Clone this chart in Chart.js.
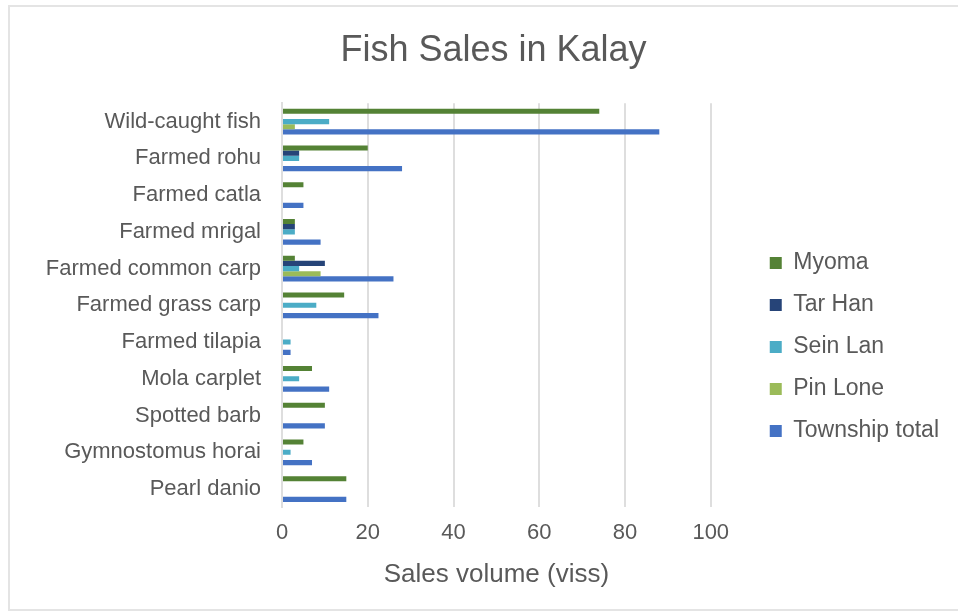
<!DOCTYPE html>
<html>
<head>
<meta charset="utf-8">
<title>Fish Sales in Kalay</title>
<script src="https://cdn.jsdelivr.net/npm/chart.js@4/dist/chart.umd.min.js"></script>
<style>
  html, body { margin: 0; padding: 0; background: #fff; }
  #wrap { position: relative; width: 958px; height: 615px; overflow: hidden; }
  #frame { position: absolute; left: 8px; top: 5px; width: 960px; height: 606px; border: 2px solid #e4e4e4; box-sizing: border-box; }
  #fishChart { position: absolute; left: 0; top: 0; }
</style>
</head>
<body>
<div id="wrap">
  <div id="frame"></div>
  <canvas id="fishChart" width="958" height="615"></canvas>
</div>
<script>
// fish types, top to bottom
const fishTypes = [
  'Wild-caught fish', 'Farmed rohu', 'Farmed catla', 'Farmed mrigal',
  'Farmed common carp', 'Farmed grass carp', 'Farmed tilapia', 'Mola carplet',
  'Spotted barb', 'Gymnostomus horai', 'Pearl danio'
];

// sales volume (viss) per village
const myoma    = [74, 20, 5, 3, 3, 14.5, 0, 7, 10, 5, 15];
const tarHan   = [0, 4, 0, 3, 10, 0, 0, 0, 0, 0, 0];
const seinLan  = [11, 4, 0, 3, 4, 8, 2, 4, 0, 2, 0];
const pinLone  = [3, 0, 0, 0, 9, 0, 0, 0, 0, 0, 0];
const township = [88, 28, 5, 9, 26, 22.5, 2, 11, 10, 7, 15];

const xTicks = [0, 20, 40, 60, 80, 100];

const textColor = '#595959';
const gridColor = '#dedede';
const font = 'Liberation Sans, Arial, sans-serif';

function serie(label, data, color) {
  return {
    label: label,
    data: data,
    backgroundColor: color,
    borderWidth: 0,
    categoryPercentage: 0.7,
    barPercentage: 1.0,
  };
}

new Chart(document.getElementById('fishChart'), {
  type: 'bar',
  data: {
    labels: fishTypes,
    datasets: [
      serie('Myoma', myoma, '#548235'),
      serie('Tar Han', tarHan, '#264478'),
      serie('Sein Lan', seinLan, '#4bacc6'),
      serie('Pin Lone', pinLone, '#9bbb59'),
      serie('Township total', township, '#4472c4'),
    ],
  },
  options: {
    indexAxis: 'y',
    responsive: false,
    animation: false,
    layout: { padding: { left: 38, right: 9, top: 0, bottom: 22 } },
    scales: {
      x: {
        min: 0,
        max: 100,
        afterBuildTicks: (scale) => {
          scale.ticks = xTicks.map((v) => ({ value: v }));
        },
        grid: { color: gridColor, lineWidth: 2, drawTicks: false },
        border: { display: false },
        ticks: { color: textColor, font: { family: font, size: 22 }, padding: 12 },
        title: {
          display: true,
          text: 'Sales volume (viss)',
          color: textColor,
          font: { family: font, size: 26 },
          padding: { top: 1, bottom: 3 },
        },
      },
      y: {
        afterFit: (scale) => { scale.width = 244; },
        grid: { display: false, drawTicks: false },
        border: { display: true, color: gridColor, width: 2 },
        ticks: { color: textColor, font: { family: font, size: 22 }, padding: 21 },
      },
      // empty strip between the plot and the legend
      gap: {
        type: 'category',
        axis: 'y',
        position: 'right',
        afterFit: (scale) => { scale.width = 40; },
        grid: { display: false },
        border: { display: false },
        ticks: { display: false },
      },
    },
    plugins: {
      title: {
        display: true,
        text: 'Fish Sales in Kalay',
        color: textColor,
        font: { family: font, size: 36, weight: 'normal' },
        padding: { top: 29, bottom: 31 },
      },
      legend: {
        position: 'right',
        maxWidth: 240,
        // blank title pushes the items down a little
        title: { display: true, text: '', font: { size: 11 }, padding: 44 },
        labels: {
          color: textColor,
          font: { family: font, size: 23 },
          boxWidth: 12,
          boxHeight: 12,
          padding: 19,
        },
      },
      tooltip: { enabled: false },
    },
  },
});
</script>
</body>
</html>
